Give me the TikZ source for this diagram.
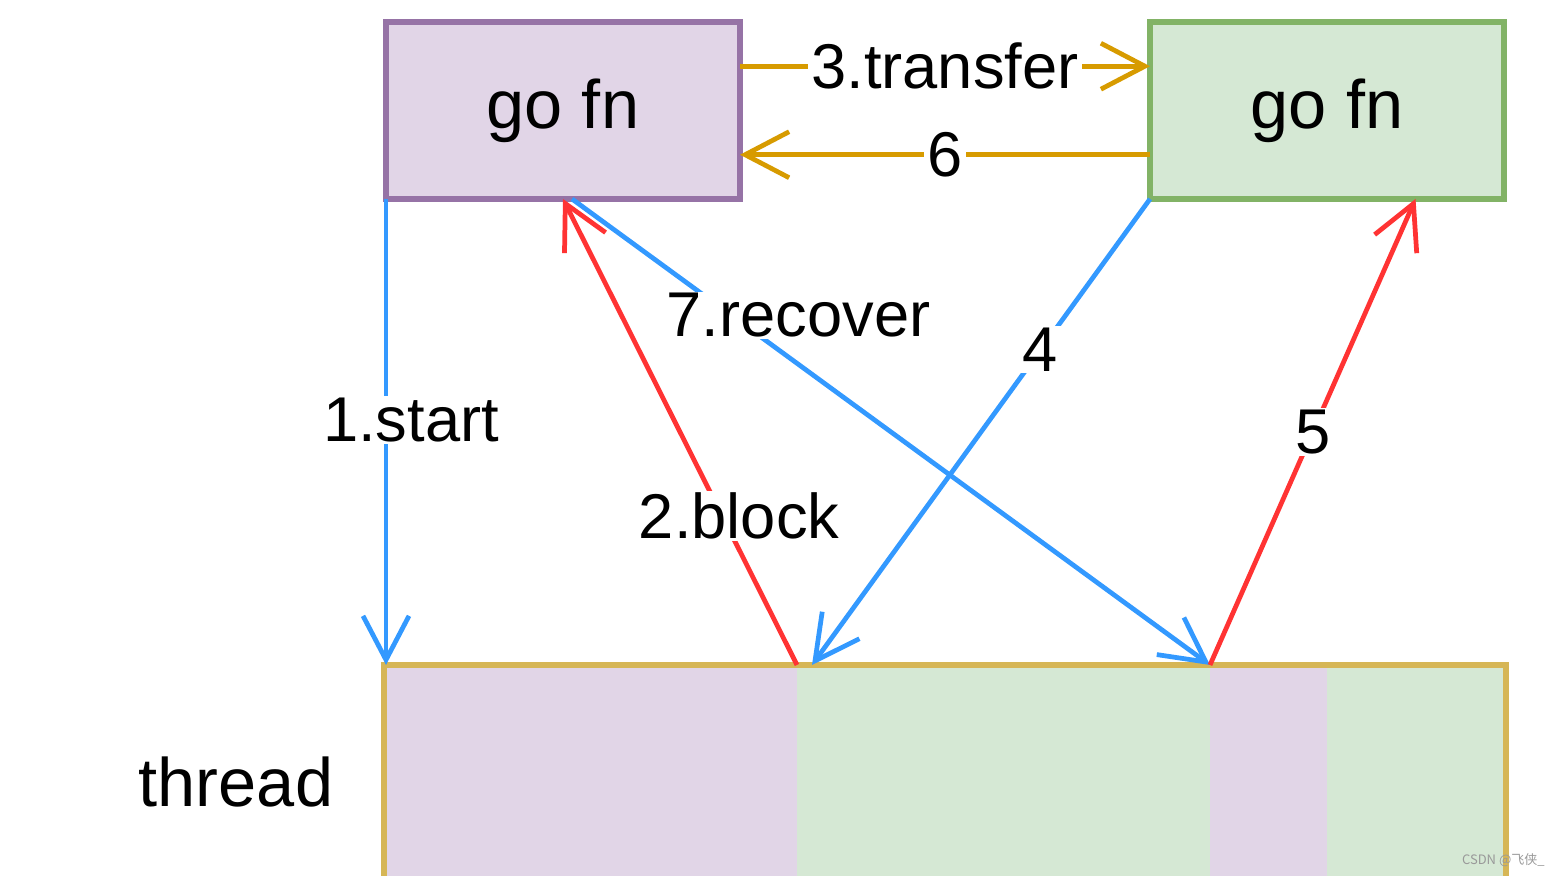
\documentclass[tikz,border=0pt]{standalone}
\usepackage{fontspec}
\setmainfont{Liberation Sans}
\newfontfamily\cjkfont{Noto Sans CJK SC}
\usetikzlibrary{arrows.meta,positioning,calc}

\definecolor{gofillA}{HTML}{E1D5E7}
\definecolor{golineA}{HTML}{9673A6}
\definecolor{gofillB}{HTML}{D5E8D4}
\definecolor{golineB}{HTML}{82B366}
\definecolor{xferline}{HTML}{D79B00}
\definecolor{bluelink}{HTML}{3399FF}
\definecolor{redlink}{HTML}{FF3333}
\definecolor{threadline}{HTML}{D6B656}

\begin{document}
\begin{tikzpicture}[
    >={Straight Barb[length=4.4mm,width=4.6mm]},
    gobox/.style={rectangle,draw,line width=1.5pt,minimum width=3.54cm,minimum height=1.77cm,
                  inner sep=0pt,outer sep=0pt,font=\fontsize{19.5}{22}\selectfont},
    seg/.style={rectangle,inner sep=0pt,outer sep=0pt,minimum height=2.7cm},
    link/.style={line width=1.35pt,->},
    lbl/.style={fill=white,inner xsep=1pt,inner ysep=0.5pt,text=black,font=\fontsize{18}{20}\selectfont}
]
\path [use as bounding box,clip] (0,0) rectangle (15.62,8.76);

\node (goA) at (5.63,7.655)  [gobox,fill=gofillA,draw=golineA] {go fn};
\node (goB) at (13.27,7.655) [gobox,fill=gofillB,draw=golineB] {go fn};

% thread bar
\node (seg1) at (3.84,2.11) [seg,anchor=north west,fill=gofillA,minimum width=4.13cm] {};
\node (seg2) [seg,right=0pt of seg1,fill=gofillB,minimum width=4.13cm] {};
\node (seg3) [seg,right=0pt of seg2,fill=gofillA,minimum width=1.17cm] {};
\node (seg4) [seg,right=0pt of seg3,fill=gofillB,minimum width=1.79cm] {};
\draw [threadline,line width=1.7pt] (seg1.south west) -- (seg1.north west) -- (seg4.north east) -- (seg4.south east);
\node (thr) at (2.36,0.94) [font=\fontsize{19.5}{22}\selectfont] {thread};

\draw [link,xferline] ($(goA.north east)!0.25!(goA.south east)$) -- ($(goB.north west)!0.25!(goB.south west)$)
    node [lbl,midway] {3.transfer};
\draw [link,xferline] ($(goB.north west)!0.75!(goB.south west)$) -- ($(goA.north east)!0.75!(goA.south east)$)
    node [lbl,midway] {6};
\draw [link,bluelink] (goA.south west) -- (goA.south west |- seg1.north)
    node [lbl,pos=0.474,xshift=0.25cm] {1.start};
\draw [link,redlink] (seg2.north west) -- (goA.south)
    node [lbl,pos=0.32,xshift=0.17cm] {2.block};
\draw [link,bluelink] ([xshift=0.09cm]goA.south) -- (seg3.north west)
    node [lbl,pos=0.25,xshift=0.67cm] {7.recover};
\draw [link,bluelink] (goB.south west) -- ([xshift=0.15cm]seg2.north west)
    node [lbl,pos=0.324] {4};
\draw [link,redlink] (seg3.north west) -- ($(goB.south west)!0.75!(goB.south east)$)
    node [lbl,pos=0.5] {5};

\node (mark) at (15.57,0.16) [anchor=east,text=gray!80,font=\cjkfont\fontsize{3.7}{4}\selectfont] {CSDN @飞侠\_};
\end{tikzpicture}
\end{document}
